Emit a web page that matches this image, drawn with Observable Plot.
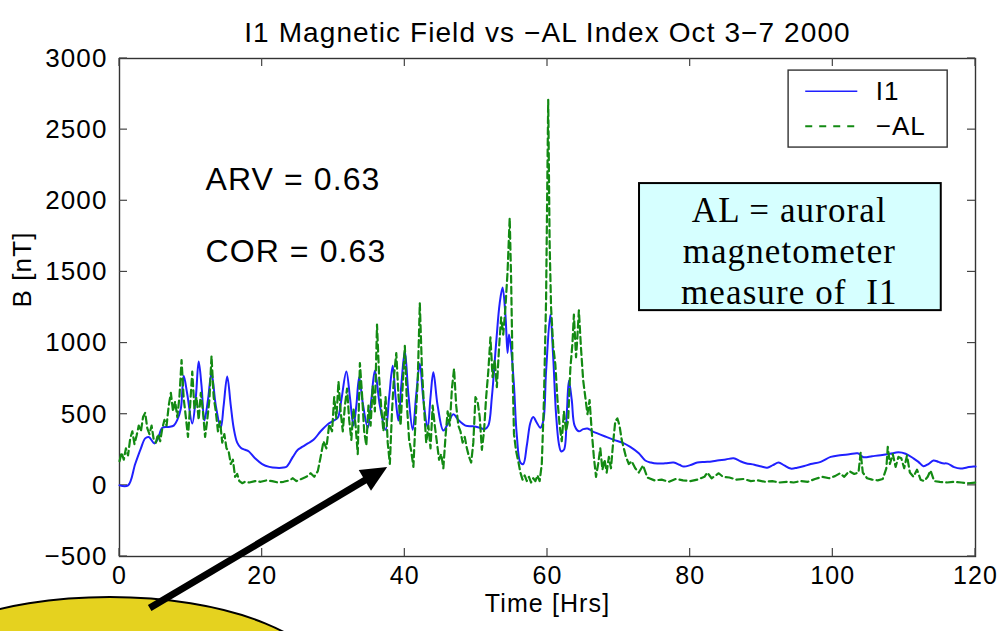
<!DOCTYPE html>
<html>
<head>
<meta charset="utf-8">
<script src="https://cdn.jsdelivr.net/npm/d3@7"></script>
<script src="https://cdn.jsdelivr.net/npm/@observablehq/plot@0.6"></script>
<style>
  html, body { margin: 0; padding: 0; background: #fff; overflow: hidden; }
  #chart svg { display: block; }
  #chart svg text { letter-spacing: 1.1px; }
</style>
</head>
<body>
<div id="chart"></div>
<script>
// Chart text
const chartTitle = "I1 Magnetic Field vs −AL Index Oct 3−7 2000";
const xLabel = "Time [Hrs]";
const yLabel = "B [nT]";
const seriesNames = ["I1", "−AL"];
const statLines = ["ARV = 0.63", "COR = 0.63"];
const noteLines = ["AL = auroral", "magnetometer", "measure of  I1"];

// Axis ticks
const xTicks = [0, 20, 40, 60, 80, 100, 120];
const yTicks = [-500, 0, 500, 1000, 1500, 2000, 2500, 3000];

// I1 field strength [hour, nT]
const i1Series = [
  [0,0],[1.2,0],[2.2,150],[3.0,260],[3.6,330],[4.1,340],[4.9,295],[5.4,330],[6.0,405],[6.9,410],
  [7.6,420],[8.1,460],[8.6,540],[9.0,770],[9.5,640],[10.2,435],[10.7,620],[11.1,870],[11.5,700],[11.9,455],
  [12.4,600],[12.9,790],[13.5,560],[14.2,405],[14.6,560],[15.1,765],[15.6,560],[16.0,405],[16.5,300],[17.0,265],
  [17.6,250],[18.1,240],[19.0,190],[20.0,150],[21.0,130],[22.0,123],[23.0,125],[23.5,135],[24.3,200],[25.0,250],
  [25.6,270],[26.4,295],[27.2,320],[28.2,380],[29.2,430],[30.0,455],[30.6,475],[31.1,600],[31.8,800],[32.3,620],
  [32.8,420],[33.2,560],[33.6,760],[34.1,580],[34.8,405],[35.3,600],[35.8,805],[36.5,560],[37.3,390],[37.8,620],
  [38.3,840],[38.7,620],[39.1,455],[39.5,700],[40.0,945],[40.5,640],[41.1,390],[41.6,640],[42.1,855],[42.6,600],
  [43.2,405],[43.6,620],[44.0,795],[44.6,560],[45.4,385],[46.0,430],[46.8,500],[47.5,460],[48.5,420],[49.5,415],
  [50.5,405],[51.2,395],[51.7,420],[52.2,620],[52.8,1000],[53.3,1280],[53.7,1390],[54.1,1200],[54.4,930],[54.6,1060],
  [54.9,960],[55.3,700],[55.7,350],[56.2,160],[56.6,150],[57.1,280],[57.6,440],[58.0,480],[58.5,440],[59.0,405],
  [59.4,450],[59.8,800],[60.4,1200],[60.8,900],[61.2,500],[61.6,290],[61.9,240],[62.3,250],[62.7,500],[63.0,735],
  [63.4,600],[63.8,420],[64.4,380],[65.0,395],[65.6,400],[66.3,380],[67.0,365],[68.0,345],[69.3,320],[70.5,300],
  [71.6,270],[72.8,225],[73.7,175],[74.5,160],[75.4,153],[76.5,155],[77.7,160],[78.5,145],[79.1,132],[80.0,142],
  [81.0,160],[82.0,165],[83.0,168],[83.8,175],[85.0,182],[86.1,190],[87.0,170],[87.8,156],[89.0,145],[90.0,132],
  [90.8,124],[91.6,142],[92.4,160],[93.2,140],[94.1,118],[95.0,124],[96.0,136],[96.9,150],[98.3,165],[99.7,200],
  [101.0,212],[102.3,218],[103.5,225],[104.3,198],[105.5,205],[106.7,212],[108.0,222],[109.2,232],[110.2,222],[111.3,190],
  [112.0,165],[112.7,135],[113.4,150],[114.1,175],[114.8,165],[115.4,155],[116.1,153],[117.0,128],[117.9,118],[118.8,126],
  [119.7,133],[120,132]
];

// -AL index [hour, nT]
const alSeries = [
  [0,170],[0.3,230],[0.6,180],[0.9,260],[1.2,210],[1.5,330],[1.8,380],[2.1,290],[2.4,350],[2.7,420],
  [3.0,380],[3.3,480],[3.6,510],[3.9,400],[4.2,360],[4.5,420],[4.8,320],[5.1,300],[5.4,360],[5.7,310],
  [6.0,400],[6.3,460],[6.6,420],[6.9,560],[7.2,650],[7.5,520],[7.8,590],[8.1,480],[8.4,620],[8.7,880],
  [9.0,610],[9.3,480],[9.6,340],[9.9,560],[10.2,800],[10.5,540],[10.8,620],[11.1,460],[11.4,650],[11.7,520],
  [12.0,340],[12.3,460],[12.6,600],[12.9,910],[13.2,620],[13.5,520],[13.8,380],[14.1,450],[14.4,300],[14.7,360],
  [15.0,260],[15.3,240],[15.6,150],[15.9,180],[16.2,60],[16.5,80],[16.8,30],[17.2,15],[17.6,25],[18.2,20],
  [19.0,30],[19.8,25],[20.6,35],[21.4,30],[22.2,20],[23.0,25],[23.8,35],[24.3,50],[24.8,30],[25.5,45],
  [26.2,60],[26.8,85],[27.3,60],[27.8,100],[28.2,200],[28.6,310],[29.0,260],[29.4,430],[29.8,380],[30.1,620],
  [30.4,470],[30.7,730],[31.0,520],[31.3,380],[31.6,560],[31.9,680],[32.2,460],[32.5,320],[32.8,540],[33.1,420],
  [33.4,220],[33.7,860],[34.0,640],[34.3,380],[34.6,280],[34.9,560],[35.2,420],[35.5,700],[35.8,520],[36.1,1130],
  [36.4,760],[36.7,540],[37.0,380],[37.3,620],[37.6,300],[37.9,150],[38.2,520],[38.5,780],[38.8,930],[39.1,640],
  [39.4,420],[39.7,700],[40.0,980],[40.3,560],[40.6,320],[40.9,240],[41.2,130],[41.5,460],[41.8,720],[42.1,1280],
  [42.4,820],[42.7,540],[43.0,300],[43.3,420],[43.6,260],[43.9,560],[44.2,420],[44.5,300],[44.8,180],[45.1,220],
  [45.4,120],[45.7,340],[46.0,520],[46.3,420],[46.6,680],[46.9,820],[47.2,560],[47.5,420],[47.8,380],[48.1,300],
  [48.4,340],[48.7,260],[49.0,200],[49.3,160],[49.6,300],[49.9,620],[50.2,590],[50.5,480],[50.8,250],[51.1,380],
  [51.4,620],[51.7,800],[52.0,1040],[52.3,760],[52.6,880],[52.9,690],[53.2,960],[53.5,1180],[53.8,1060],[54.1,1250],
  [54.4,1500],[54.7,1880],[54.9,1450],[55.1,830],[55.3,360],[55.6,240],[55.9,170],[56.2,90],[56.5,40],[56.8,70],
  [57.1,30],[57.4,60],[57.7,20],[58.0,50],[58.3,30],[58.6,70],[58.9,30],[59.2,150],[59.5,600],[59.8,1300],
  [60.0,2250],[60.1,2710],[60.3,1700],[60.5,1250],[60.8,980],[61.1,850],[61.4,600],[61.7,420],[62.0,310],[62.3,520],
  [62.6,380],[62.9,460],[63.2,820],[63.5,1000],[63.7,1200],[64.0,900],[64.2,1050],[64.4,1230],[64.7,960],[65.0,740],
  [65.3,620],[65.6,500],[65.9,600],[66.2,380],[66.5,200],[66.8,60],[67.1,150],[67.4,260],[67.7,110],[68.0,180],
  [68.3,90],[68.6,200],[68.9,120],[69.2,300],[69.5,450],[69.8,470],[70.1,420],[70.4,320],[70.7,260],[71.0,200],
  [71.4,150],[71.8,170],[72.3,120],[72.8,90],[73.4,140],[74.0,55],[75.0,35],[76.0,40],[77.0,25],[78.0,45],
  [79.0,35],[80.0,30],[81.0,40],[82.0,60],[82.4,90],[83.0,50],[84.0,85],[84.6,60],[85.5,55],[86.5,40],
  [87.5,45],[88.5,30],[89.5,35],[90.5,25],[91.5,30],[92.5,20],[93.5,25],[94.5,20],[95.5,30],[96.5,25],
  [97.5,45],[98.5,60],[99.5,50],[100.3,65],[101.0,85],[101.6,60],[102.3,100],[103.0,80],[103.6,90],[103.9,230],
  [104.2,90],[104.8,50],[105.5,40],[106.3,35],[107.0,45],[107.5,120],[107.7,270],[108.0,150],[108.4,220],[108.8,130],
  [109.2,200],[109.6,190],[110.0,120],[110.4,210],[110.8,90],[111.3,60],[111.8,110],[112.3,40],[112.8,30],[113.3,60],
  [113.7,105],[114.2,30],[115.0,25],[116.0,20],[117.0,25],[118.0,20],[119.0,15],[120.0,20]
];

const xDomain = [0, 120];
const yDomain = [-500, 3000];
const blue = "#2020ff";
const green = "#138a13";
const sansFont = "'Liberation Sans', Arial, Helvetica, sans-serif";
const serifFont = "'Liberation Serif', 'Times New Roman', serif";

// Inward tick marks on all four sides of the axes box
function innerTicks(index, {x, y}) {
  const len = 8;
  const g = d3.create("svg:g").attr("stroke", "#444").attr("stroke-width", 1.2);
  const [x0, x1] = xDomain.map(x);
  const [y0, y1] = yDomain.map(y);
  for (const t of xTicks) {
    const px = x(t);
    g.append("line").attr("x1", px).attr("x2", px).attr("y1", y0).attr("y2", y0 - len);
    g.append("line").attr("x1", px).attr("x2", px).attr("y1", y1).attr("y2", y1 + len);
  }
  for (const t of yTicks) {
    const py = y(t);
    g.append("line").attr("y1", py).attr("y2", py).attr("x1", x0).attr("x2", x0 + len);
    g.append("line").attr("y1", py).attr("y2", py).attr("x1", x1).attr("x2", x1 - len);
  }
  return g.node();
}

// Yellow call-out bubble with a bold arrow pointing into the -AL bursts
const bubbleCenter = [-1.3, -1420];
const bubbleRadii = [30.8, 632];
const arrowTail = [4.3, -866];
const arrowTip = [37.6, 125];
function callout(index, {x, y}) {
  const g = d3.create("svg:g");
  const cx = x(bubbleCenter[0]), cy = y(bubbleCenter[1]);
  g.append("ellipse")
    .attr("cx", cx).attr("cy", cy)
    .attr("rx", x(bubbleCenter[0] + bubbleRadii[0]) - cx)
    .attr("ry", cy - y(bubbleCenter[1] + bubbleRadii[1]))
    .attr("fill", "#e5d21f").attr("stroke", "#000").attr("stroke-width", 2);
  const tx = x(arrowTail[0]), ty = y(arrowTail[1]);
  const hx = x(arrowTip[0]), hy = y(arrowTip[1]);
  const ang = Math.atan2(hy - ty, hx - tx);
  const headLen = 26, headHalf = 12;
  const bx = hx - headLen * Math.cos(ang), by = hy - headLen * Math.sin(ang);
  g.append("line")
    .attr("x1", tx).attr("y1", ty).attr("x2", bx + 2 * Math.cos(ang)).attr("y2", by + 2 * Math.sin(ang))
    .attr("stroke", "#000").attr("stroke-width", 7);
  const nx = -Math.sin(ang), ny = Math.cos(ang);
  g.append("path")
    .attr("d", `M${hx},${hy}L${bx + nx * headHalf},${by + ny * headHalf}L${bx - nx * headHalf},${by - ny * headHalf}Z`)
    .attr("fill", "#000");
  return g.node();
}

const chart = Plot.plot({
  width: 1004,
  height: 631,
  marginLeft: 119,
  marginRight: 29,
  marginTop: 58,
  marginBottom: 75,
  style: {fontFamily: sansFont, fontSize: "26px", color: "#000", background: "#fff", overflow: "visible"},
  x: {domain: xDomain},
  y: {domain: yDomain},
  marks: [
    Plot.axisX({ticks: xTicks, tickSize: 0, tickPadding: 10, fontSize: 25, label: null, tickFormat: "d"}),
    Plot.axisY({ticks: yTicks, tickSize: 0, tickPadding: 12, fontSize: 26, label: null, tickFormat: "d"}),
    Plot.frame({stroke: "#333", strokeWidth: 1.4}),
    innerTicks,
    Plot.text([chartTitle], {frameAnchor: "top", dy: -36, fontSize: 28}),
    Plot.text([xLabel], {frameAnchor: "bottom", dy: 55, fontSize: 25}),
    Plot.text([yLabel], {frameAnchor: "left", dx: -97, rotate: -90, fontSize: 26}),
    Plot.line(i1Series, {x: d => d[0], y: d => d[1], stroke: blue, strokeWidth: 2, curve: "catmull-rom"}),
    Plot.line(alSeries, {x: d => d[0], y: d => d[1], stroke: green, strokeWidth: 2.2, strokeDasharray: "7,4"}),
    Plot.text(statLines, {x: 12.05, y: (d, i) => 2150 - i * 505, textAnchor: "start", fontSize: 32}),
    // legend
    Plot.rect([0], {x1: 93.8, x2: 116.1, y1: 2374, y2: 2915, fill: "#fff", stroke: "#333", strokeWidth: 1.4}),
    Plot.ruleY([0], {x1: 96.2, x2: 103.5, y: 2770, stroke: blue, strokeWidth: 1.6}),
    Plot.ruleY([0], {x1: 96.2, x2: 103.5, y: 2524, stroke: green, strokeWidth: 1.8, strokeDasharray: "7,7"}),
    Plot.text(seriesNames, {x: 106.0, y: (d, i) => 2770 - i * 246, textAnchor: "start", fontSize: 26}),
    // definition note
    Plot.rect([0], {x1: 72.9, x2: 115.2, y1: 1228, y2: 2121, fill: "#d6ffff", stroke: "#000", strokeWidth: 2}),
    Plot.text(noteLines, {x: 93.9, y: (d, i) => 1929 - i * 288, fontFamily: serifFont, fontSize: 35}),
    callout
  ]
});
document.getElementById("chart").append(chart);
</script>
</body>
</html>
